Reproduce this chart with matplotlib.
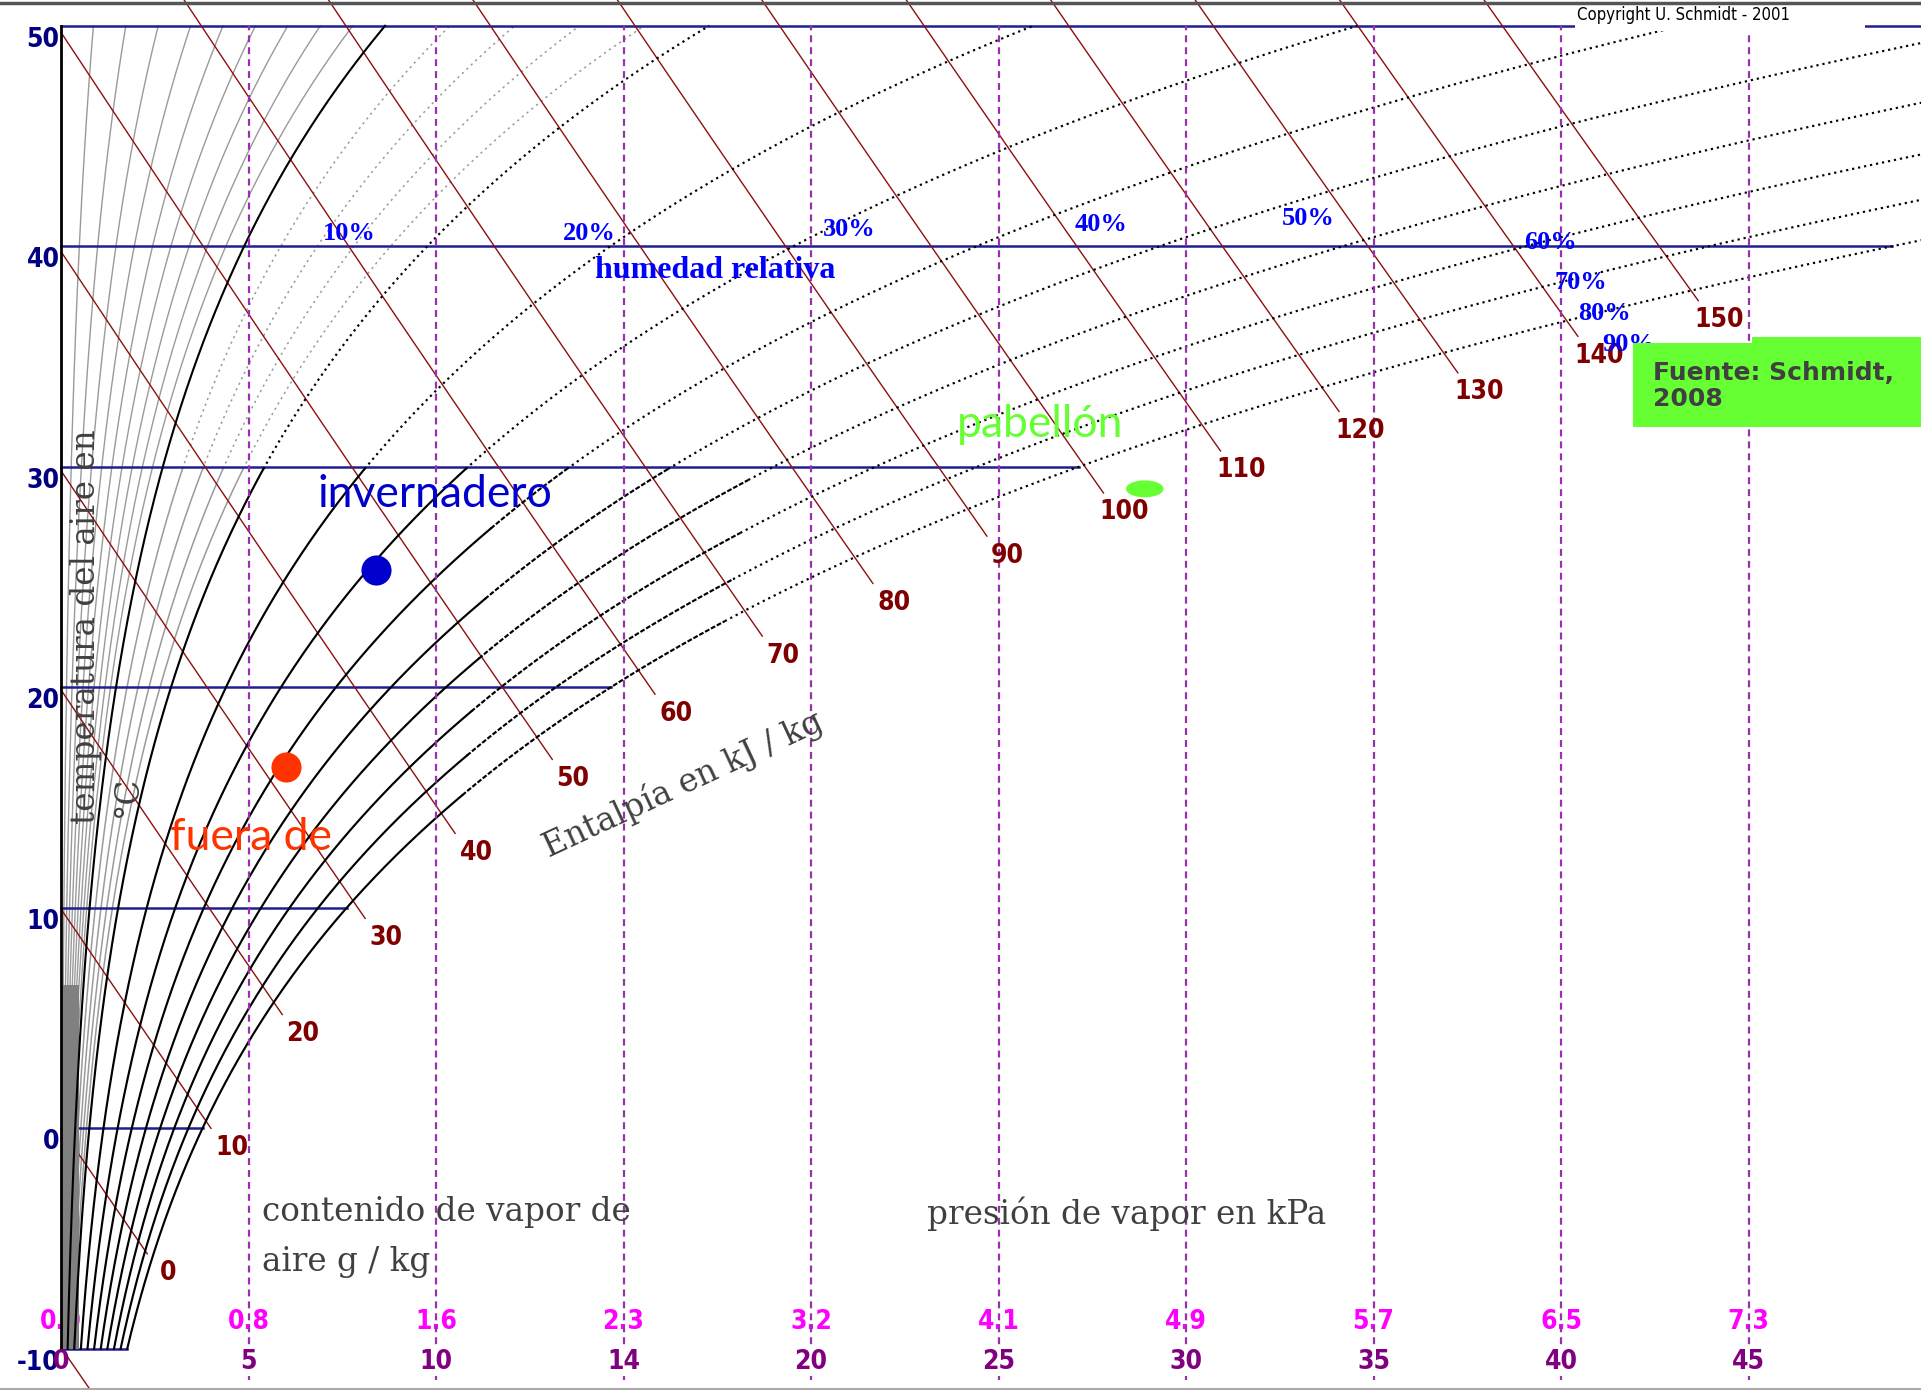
import numpy as np
import matplotlib
matplotlib.use("Agg")
import matplotlib.pyplot as plt
from matplotlib.patches import Rectangle, Ellipse

plt.rcParams['lines.scale_dashes'] = False

# ---- chart data ----
iso_temps = [-10, 0, 10, 20, 30, 40, 50]            # horizontal isotherms, degC
y_tick_labels = ['-10', '0', '10', '20', '30', '40', '50']
rh_gray = [1, 2, 3, 4, 5, 6, 7, 8, 9, 12, 14, 16, 18]   # thin gray curves, %
rh_black = [10, 20, 30, 40, 50, 60, 70, 80, 90, 100]    # black curves, %
rh_labels = ['10%', '20%', '30%', '40%', '50%', '60%', '70%', '80%', '90%']
enthalpies = [-10, 0, 10, 20, 30, 40, 50, 60, 70, 80, 90, 100, 110, 120, 130, 140, 150]
# where each enthalpy line stops, as multiple of the saturation content
h_end_ratio = [1.1, 0.93, 1.06, 1.08, 1.1, 1.1, 1.1, 1.1, 1.1, 1.1, 1.1, 1.1,
               1.09, 1.08, 1.065, 1.05, 1.03]
x_ticks = [0, 5, 10, 15, 20, 25, 30, 35, 40, 45, 50]    # g/kg
x_tick_labels = ['0', '5', '10', '14', '20', '25', '30', '35', '40', '45', '50']
p_tick_labels = ['0.0', '0.8', '1.6', '2.3', '3.2', '4.1', '4.9', '5.7', '6.5', '7.3', '8.0']

# marked states (x in g/kg, temperature in degC)
states = ['invernadero', 'fuera de']
state_x = [8.4, 6.0]
state_t = [25.3, 16.4]
state_colors = ['#0000cc', '#ff3300']
pabellon_x, pabellon_t = 28.9, 29.0

# ---- psychrometrics ----
def w_sat(t):
    t = np.minimum(t, 55)
    ps = 0.61094 * np.exp(17.625 * t / (t + 243.04))
    return 622.0 * ps / (101.325 - ps)

def t_on_h(h, w):
    return (h - 2.501 * w) / (1.006 + 0.00186 * w)

# ---- figure ----
fig = plt.figure(figsize=(19.21, 13.90), dpi=100)
ax = fig.add_axes([0, 0, 1, 1])
ax.set_xlim(-1.627, 49.6)
ax.set_ylim(-11.87, 51.17)
ax.axis('off')

PX_W, PX_T = 37.5, 22.05   # pixels per g/kg and per degC
NARROW = dict(family=['Liberation Sans Narrow', 'DejaVu Sans'], fontstretch='condensed',
              weight='bold')
navy = '#1f1f8f'
DOT = (0, (1.6, 2.8))
DASH = (0, (3.5, 1.3))


def styled_curve(w, t, color, lw, z):
    # solid where steep, dashed in between, dotted where flat or warm
    slope = np.gradient(w, t) * PX_W / PX_T
    ang = np.degrees(np.arctan2(1, slope))
    code = np.where((ang >= 40) & (t < 30), 0, np.where((ang >= 28) & (t < 30), 1, 2))
    for k, ls in enumerate(['-', DASH, DOT]):
        idx = np.where(code == k)[0]
        if len(idx) == 0:
            continue
        i0, i1 = max(idx[0] - 1, 0), idx[-1] + 1
        ax.plot(w[i0:i1], t[i0:i1], color=color, lw=lw, ls=ls, zorder=z)


# relative humidity curves
tt = np.linspace(-10, 50, 601)
for rh in rh_gray:
    w = rh / 100 * w_sat(tt)
    if rh < 10:
        ax.plot(w, tt, color='#9a9a9a', lw=1.0, zorder=2)
    else:
        styled_curve(w, tt, '#9a9a9a', 1.1, 2)

for rh in rh_black:
    w = rh / 100 * w_sat(tt)
    if rh == 10:
        ax.plot(w, tt, color='black', lw=1.5, zorder=4)
    else:
        styled_curve(w, tt, 'black', 1.55, 4)

# isotherms up to saturation
for t in iso_temps:
    ax.plot([0, min(w_sat(t), 60)], [t, t], color=navy, lw=1.8, zorder=2.5)

# enthalpy lines
ww = np.linspace(0, 60, 6001)
for h, ratio in zip(enthalpies, h_end_ratio):
    th = t_on_h(h, ww)
    past = (th < 55) & (ww - ratio * w_sat(th) > 0)
    i_end = np.argmax(past) if past.any() else len(ww) - 1
    ax.plot(ww[:i_end + 1], th[:i_end + 1], color='#8b1010', lw=1.0, zorder=3)
    if h >= 0:
        ax.annotate(str(h), (ww[i_end], th[i_end]), xytext=(15, -14),
                    textcoords='offset points', ha='center', va='center',
                    fontsize=19, color='#800000', zorder=6, **NARROW)

# dark band of overlapping low-humidity curves
ax.fill_betweenx([-10, 6.5], 0, 0.48, color='#808080', lw=0, zorder=3.5)

# left axis line
ax.plot([0, 0], [iso_temps[0], iso_temps[-1]], color='black', lw=2, zorder=5)

# vertical vapour-content lines and their labels
for x, lab, plab in zip(x_ticks, x_tick_labels, p_tick_labels):
    if 0 < x < 50:
        ax.plot([x, x], [-11.4, 50], color='#9932aa', lw=1.6,
                ls=(0, (5, 3.6)), zorder=4.5)
    box = dict(fc='white', ec='none', pad=1) if x > 0 else None
    ax.annotate(plab, (x, -10), xytext=(0, 19.5), textcoords='offset points',
                ha='center', va='center', fontsize=19, color='#ff00ff',
                bbox=box, zorder=3.2, **NARROW)
    ax.annotate(lab, (x, -10), xytext=(0, -9.5), textcoords='offset points',
                ha='center', va='center', fontsize=19, color='#800080',
                bbox=box, zorder=6.5, **NARROW)

# temperature labels
for t, lab in zip(iso_temps, y_tick_labels):
    ax.annotate(lab, (0, t), xytext=(-1, -10), textcoords='offset points',
                ha='right', va='center', fontsize=19, color='#000080',
                zorder=6, **NARROW)

# relative humidity labels
rh_lab_x = [7.68, 14.08, 21.01, 27.73, 33.25, 39.71, 40.53, 41.17, 41.81]
rh_lab_t = [40.6, 40.6, 40.74, 40.97, 41.28, 40.15, 38.38, 36.93, 35.53]
for lab, x, t in zip(rh_labels, rh_lab_x, rh_lab_t):
    ax.text(x, t, lab, ha='center', va='center', fontsize=19, color='#0000ff',
            weight='bold', family='Liberation Serif', zorder=6)
ax.text(17.44, 38.88, 'humedad relativa', ha='center', va='center', fontsize=23,
        color='#0000ff', weight='bold', family='Liberation Serif', zorder=6)

# axis captions
gray = '#404040'
ax.text(5.36, -3.08, 'contenido de vapor de\naire g / kg', ha='left', va='top',
        fontsize=23.5, color=gray, family='DejaVu Serif', linespacing=1.7, zorder=6)
ax.text(23.09, -3.08, 'presión de vapor en kPa', ha='left', va='top',
        fontsize=23.5, color=gray, family='DejaVu Serif', zorder=6)
ax.text(16.59, 15.6, 'Entalpía en kJ / kg', ha='center', va='center', rotation=25,
        fontsize=23.5, color=gray, family='DejaVu Serif', zorder=6)
ax.text(0.67, 22.74, 'temperatura del aire en', ha='center', va='center',
        rotation=90, fontsize=23.5, color=gray, family='DejaVu Serif', zorder=6)
ax.text(1.79, 15.07, '°C', ha='center', va='center', rotation=90,
        fontsize=23.5, color=gray, family='DejaVu Serif', zorder=6)

# copyright
ax.add_patch(Rectangle((40.37, 49.75), 7.73, 0.5, fc='white', ec='none', zorder=5))
ax.text(40.43, 50.49, 'Copyright U. Schmidt - 2001', ha='left', va='center',
        fontsize=12, color='black', family=['Liberation Sans Narrow', 'DejaVu Sans'],
        fontstretch='condensed', zorder=6)

# marked states
for name, x, t, c in zip(states, state_x, state_t, state_colors):
    ax.scatter([x], [t], s=470, color=c, zorder=8, linewidths=0)
ax.text(9.97, 28.75, 'invernadero', ha='center', va='center', fontsize=32,
        color='#0000cc', family='Lato', zorder=7)
ax.text(5.07, 13.2, 'fuera de', ha='center', va='center', fontsize=32,
        color='#ff3300', family='Lato', zorder=7)
ax.add_patch(Ellipse((pabellon_x, pabellon_t), 1.0, 0.77, fc='#66ff33', ec='none',
                     zorder=8))
ax.text(26.1, 31.9, 'pabellón', ha='center', va='center', fontsize=32,
        color='#66ff33', family='Lato', zorder=7)

# source box
ax.add_patch(Rectangle((41.92, 31.8), 9, 3.81, fc='#66ff33', ec='none', zorder=7))
ax.add_patch(Rectangle((45.09, 35.5), 6, 0.39, fc='#66ff33', ec='none', zorder=7))
ax.text(42.45, 33.66, 'Fuente: Schmidt,\n2008', ha='left', va='center',
        fontsize=18, color=gray, weight='bold', family='DejaVu Sans',
        linespacing=1.1, zorder=7.5)

# frame lines
fig.add_artist(plt.Line2D([0, 1], [1 - 3 / 1390] * 2, color='#555555', lw=2.5,
                          transform=fig.transFigure))
fig.add_artist(plt.Line2D([0, 1], [1.5 / 1390] * 2, color='#aaaaaa', lw=1.5,
                          transform=fig.transFigure))

fig.savefig('out.png', dpi=100)
